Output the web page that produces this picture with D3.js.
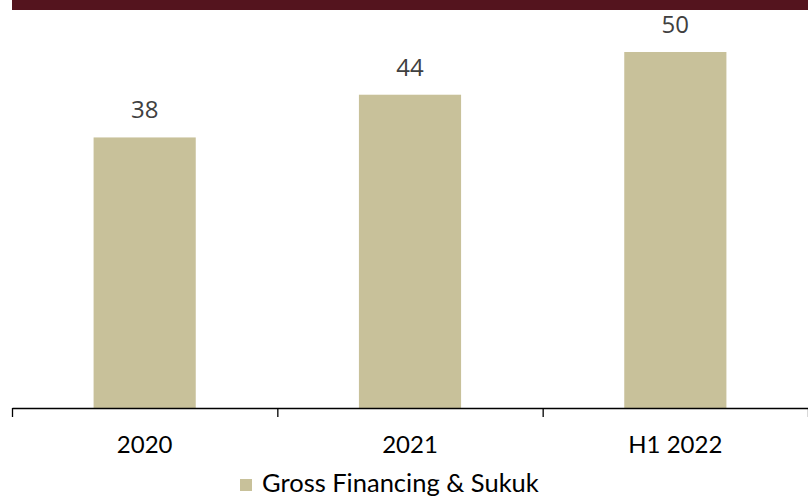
<!DOCTYPE html>
<html>
<head>
<meta charset="utf-8">
<script src="https://cdn.jsdelivr.net/npm/d3@7"></script>
<style>
  body { margin: 0; background: #fff; }
  svg { display: block; }
  .val { font-family: "Open Sans", sans-serif; font-size: 24px; fill: #404040; }
  .cat { font-family: Lato, sans-serif; font-size: 24px; fill: #000; }
  .legend { font-family: Lato, sans-serif; font-size: 25.5px; fill: #000; }
</style>
</head>
<body>
<div id="chart"></div>
<script>
// chart data
var categories = ["2020", "2021", "H1 2022"];
var values = [38, 44, 50];
var seriesName = "Gross Financing & Sukuk";

var width = 808, height = 498;
var axisY = 408;

var svg = d3.select("#chart").append("svg")
    .attr("width", width)
    .attr("height", height);

// top banner
svg.append("rect")
    .attr("x", 12).attr("y", 0)
    .attr("width", width - 12).attr("height", 10)
    .attr("fill", "#54141e");

var x = d3.scaleBand()
    .domain(categories)
    .range([12, 808])
    .paddingInner(0.615)
    .paddingOuter(0.3075);

var y = d3.scaleLinear()
    .domain([0, 50])
    .range([axisY, 52]);

// bars
svg.selectAll(".bar")
    .data(values)
  .enter().append("rect")
    .attr("class", "bar")
    .attr("x", function(d, i) { return x(categories[i]); })
    .attr("y", function(d) { return y(d); })
    .attr("width", x.bandwidth())
    .attr("height", function(d) { return axisY - y(d); })
    .attr("fill", "#c8c19a");

// value labels
svg.selectAll(".val")
    .data(values)
  .enter().append("text")
    .attr("class", "val")
    .attr("x", function(d, i) { return x(categories[i]) + x.bandwidth() / 2; })
    .attr("y", function(d) { return y(d) - 19; })
    .attr("text-anchor", "middle")
    .text(function(d) { return d; });

// axis with ticks between categories
var edge = d3.scaleLinear().domain([0, categories.length]).range([12, 808]);
svg.append("g")
    .attr("transform", "translate(0," + axisY + ")")
    .call(d3.axisBottom(edge)
      .tickValues(d3.range(categories.length + 1))
      .tickSize(9)
      .tickSizeOuter(0)
      .tickFormat(""))
    .call(function(g) {
      g.select(".domain").attr("stroke", "#000").attr("stroke-width", 1.3);
      g.selectAll(".tick line").attr("stroke", "#000").attr("stroke-width", 1.3);
    });

// category labels
svg.selectAll(".cat")
    .data(categories)
  .enter().append("text")
    .attr("class", "cat")
    .attr("x", function(d) { return x(d) + x.bandwidth() / 2; })
    .attr("y", 453)
    .attr("text-anchor", "middle")
    .text(function(d) { return d; });

// legend
var lg = svg.append("g").attr("transform", "translate(240,479)");
lg.append("rect")
    .attr("width", 12).attr("height", 12)
    .attr("fill", "#c8c19a");
lg.append("text")
    .attr("class", "legend")
    .attr("x", 22)
    .attr("y", 13)
    .text(seriesName);
</script>
</body>
</html>
